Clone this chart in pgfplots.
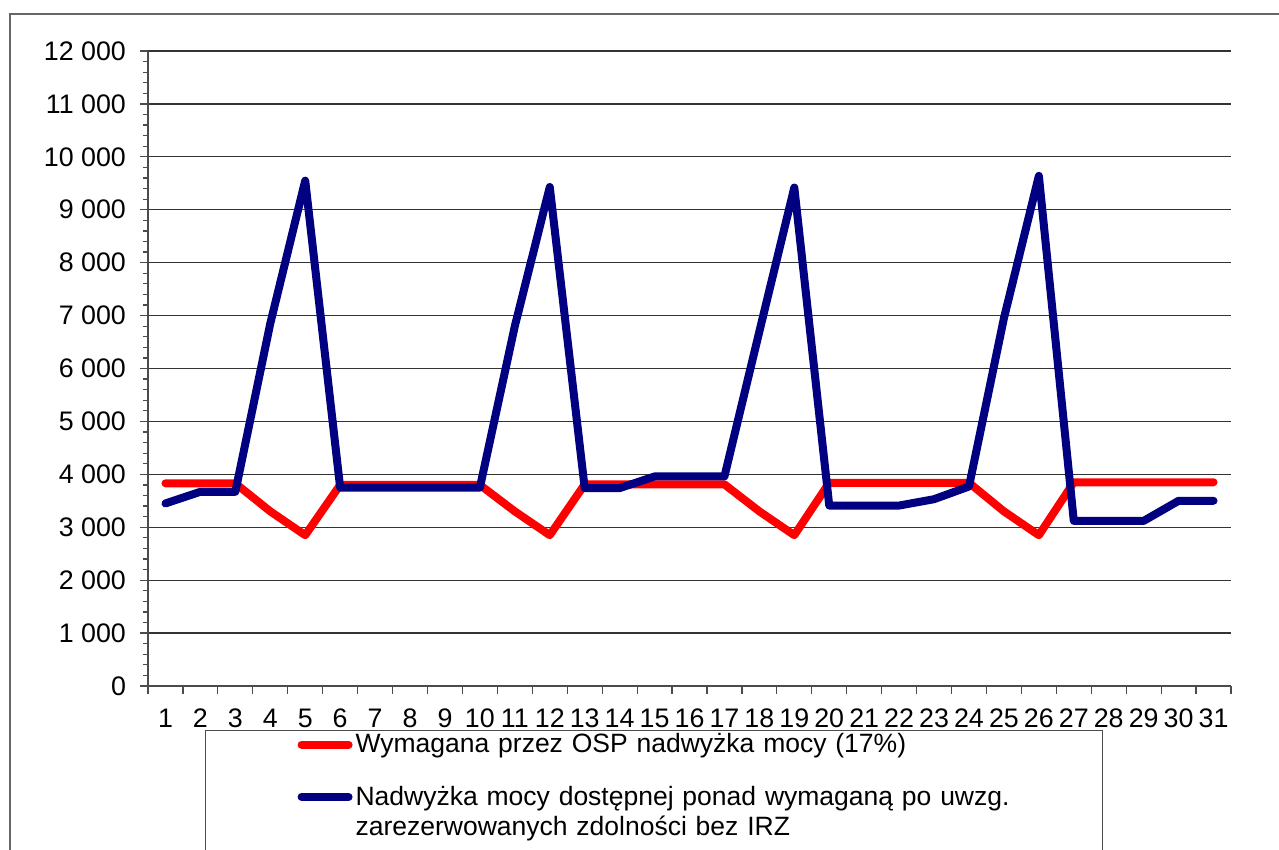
\documentclass[border=0pt]{standalone}
\usepackage{pgfplots}
\pgfplotsset{compat=1.18}
\usepackage{fontspec}
\setmainfont{Liberation Sans}
\definecolor{navyb}{RGB}{0,0,128}
\definecolor{redl}{RGB}{255,0,0}
\pgfplotstableread{
day req
1 3830
2 3830
3 3830
4 3300
5 2850
6 3800
7 3800
8 3800
9 3800
10 3800
11 3300
12 2850
13 3810
14 3810
15 3810
16 3810
17 3810
18 3300
19 2850
20 3840
21 3840
22 3840
23 3840
24 3840
25 3300
26 2850
27 3850
28 3850
29 3850
30 3850
31 3850
}\reqtab
\pgfplotstableread{
day avail
1 3450
2 3670
3 3670
4 6850
5 9550
6 3750
7 3750
8 3750
9 3750
10 3750
11 6800
12 9430
13 3740
14 3740
15 3960
16 3960
17 3960
18 6700
19 9420
20 3410
21 3410
22 3410
23 3530
24 3770
25 6950
26 9640
27 3120
28 3120
29 3120
30 3500
31 3500
}\availtab
\begin{document}
\begin{tikzpicture}[x=1pt,y=1pt]
\useasboundingbox (0,0) rectangle (639.5,425);
\draw[black!60, line width=0.8pt] (5,418) rectangle (655,-20);
\begin{axis}[
  at={(74pt,82pt)}, anchor=south west,
  scale only axis, width=541.5pt, height=317.5pt,
  xmin=0.5, xmax=31.5, ymin=0, ymax=12000,
  scaled y ticks=false,
  axis lines*=left,
  axis line style={black!70, line width=0.6pt},
  xtick={0.5,1.5,...,31.5},
  xticklabels={1,2,3,4,5,6,7,8,9,10,11,12,13,14,15,16,17,18,19,20,21,22,23,24,25,26,27,28,29,30,31,{}},
  xticklabel style={xshift=8.734pt, yshift=-4pt},
  ytick={0,1000,...,12000},
  yticklabels={0,1 000,2 000,3 000,4 000,5 000,6 000,7 000,8 000,9 000,10 000,11 000,12 000},
  yticklabel style={xshift=-3.5pt},
  minor y tick num=4,
  tick align=outside,
  major tick length=4pt, minor tick length=2.5pt,
  tick style={black!70, line width=0.6pt},
  ymajorgrids, grid style={black!80, line width=0.6pt},
  ticklabel style={font=\fontsize{13.4}{15}\selectfont},
  clip=false,
  legend style={at={(0.05263,-0.0693)}, anchor=north west, draw=black!70, line width=0.6pt,
    inner xsep=0pt, inner ysep=1.5pt, row sep=15pt, column sep=1.5pt,
    font=\fontsize{13.25}{15}\selectfont,
    nodes={inner sep=0pt, text width=373.5pt, align=left}},
  legend cell align=left,
  legend image code/.code={\path[draw=none,fill=none] (0pt,0pt) -- (73.5pt,0pt); \draw[#1,line cap=round] (48pt,0pt) -- (71.5pt,0pt);},
]
\addplot[redl, line width=4pt, line join=round, line cap=round, mark=none] table[x=day,y=req] {\reqtab};
\addlegendentry{Wymagana przez OSP nadwyżka mocy (17\%)}
\addplot[navyb, line width=4pt, line join=round, line cap=round, mark=none] table[x=day,y=avail] {\availtab};
\addlegendentry{Nadwyżka mocy dostępnej ponad wymaganą po uwzg.\\zarezerwowanych zdolności bez IRZ}
\addlegendimage{empty legend}
\addlegendentry{\rule{0pt}{24pt}}
\end{axis}
\end{tikzpicture}
\end{document}
